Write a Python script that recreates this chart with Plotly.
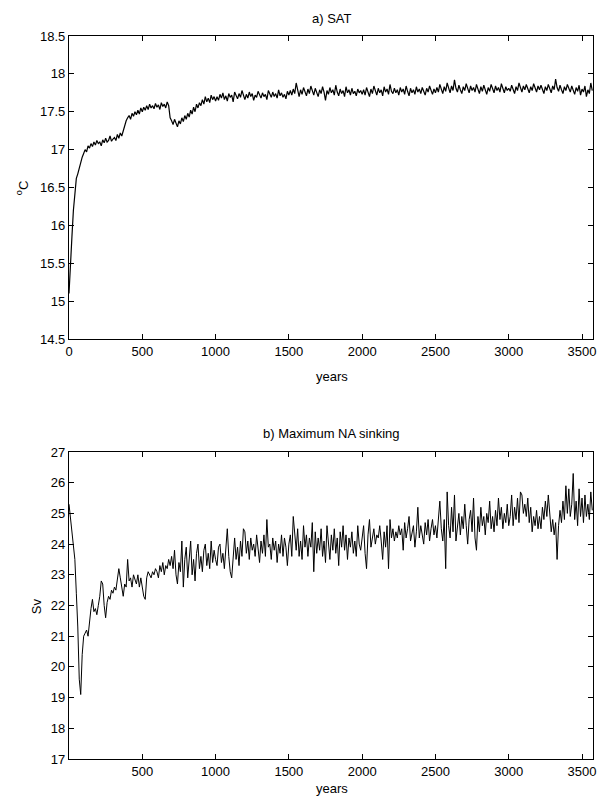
import plotly.graph_objects as go

years = list(range(0, 3580, 10))

sat = [
    15.10, 15.55, 15.85, 16.20, 16.45, 16.62, 16.68, 16.75, 16.85, 16.90, 16.95,
    17.00, 16.97, 17.05, 17.02, 17.08, 17.04, 17.10, 17.06, 17.12, 17.08, 17.10, 17.05, 17.13, 17.09, 17.15, 17.10, 17.12, 17.18, 17.11, 17.14,
    17.16, 17.12, 17.20, 17.15, 17.22, 17.18, 17.25, 17.30, 17.38, 17.42,
    17.45, 17.40, 17.48, 17.44, 17.50, 17.46, 17.52, 17.47, 17.55, 17.50,
    17.56, 17.52, 17.58, 17.53, 17.60, 17.55, 17.58, 17.54, 17.61, 17.56, 17.59, 17.53, 17.62, 17.57, 17.60, 17.55, 17.63, 17.58,
    17.42, 17.38, 17.33, 17.40, 17.36, 17.30, 17.38, 17.34, 17.42, 17.37, 17.45, 17.40,
    17.48, 17.43, 17.52, 17.47, 17.56, 17.50, 17.60, 17.55, 17.62, 17.58, 17.66, 17.60, 17.70, 17.63, 17.68, 17.62, 17.72, 17.66, 17.70, 17.64,
    17.70, 17.65, 17.73, 17.68, 17.75, 17.66, 17.71, 17.64, 17.74, 17.69, 17.72, 17.63, 17.76, 17.70, 17.67, 17.74, 17.69, 17.78, 17.71, 17.66,
    17.73, 17.68, 17.76, 17.70, 17.74, 17.65, 17.72, 17.69, 17.77, 17.71, 17.68, 17.75, 17.70, 17.73, 17.66, 17.78, 17.72, 17.69, 17.76, 17.70,
    17.74, 17.68, 17.79, 17.71, 17.75, 17.69, 17.73, 17.67, 17.77, 17.72,
    17.78, 17.72, 17.80, 17.74, 17.88, 17.76, 17.70, 17.79, 17.73, 17.82, 17.75, 17.71, 17.80, 17.74, 17.84, 17.77, 17.72, 17.81, 17.75, 17.70,
    17.79, 17.74, 17.83, 17.76, 17.65, 17.78, 17.73, 17.82, 17.75, 17.79, 17.72, 17.85, 17.76, 17.71, 17.80, 17.74, 17.78, 17.70, 17.83, 17.75,
    17.79, 17.72, 17.81, 17.74, 17.77, 17.71, 17.80, 17.75, 17.78, 17.73,
    17.79, 17.72, 17.82, 17.76, 17.70, 17.80, 17.74, 17.84, 17.77, 17.72, 17.81, 17.75, 17.79, 17.71, 17.83, 17.76, 17.80, 17.73, 17.86, 17.77,
    17.74, 17.81, 17.75, 17.79, 17.72, 17.82, 17.76, 17.80, 17.73, 17.84, 17.77, 17.71, 17.81, 17.75, 17.79, 17.73, 17.83, 17.76, 17.80, 17.74,
    17.82, 17.77, 17.72, 17.81, 17.76, 17.84, 17.78, 17.73, 17.80, 17.75,
    17.82, 17.76, 17.86, 17.79, 17.74, 17.83, 17.77, 17.88, 17.80, 17.75, 17.84, 17.78, 17.92, 17.81, 17.76, 17.85, 17.79, 17.74, 17.83, 17.78,
    17.87, 17.80, 17.75, 17.84, 17.78, 17.82, 17.76, 17.86, 17.80, 17.74, 17.83, 17.77, 17.85, 17.79, 17.73, 17.82, 17.77, 17.86, 17.80, 17.75,
    17.84, 17.78, 17.82, 17.76, 17.87, 17.80, 17.75, 17.83, 17.78, 17.81,
    17.77, 17.85, 17.79, 17.74, 17.83, 17.78, 17.88, 17.81, 17.76, 17.84, 17.79, 17.86, 17.80, 17.75, 17.83, 17.78, 17.87, 17.81, 17.76, 17.84,
    17.79, 17.85, 17.80, 17.74, 17.83, 17.78, 17.86, 17.80, 17.75, 17.84, 17.79, 17.93, 17.82, 17.77, 17.85, 17.79, 17.74, 17.83, 17.78, 17.86,
    17.80, 17.76, 17.84, 17.79, 17.73, 17.82, 17.77, 17.85, 17.72, 17.80,
    17.76, 17.84, 17.70, 17.79, 17.74, 17.88, 17.78,
]

sinking = [
    25.3, 24.8, 24.3, 23.9, 23.5, 22.4, 21.3, 19.6, 19.1, 20.4, 21.0,
    21.1, 21.2, 21.0, 21.6, 21.9, 22.2, 21.8, 21.9, 21.7, 22.0, 22.3, 22.8, 22.7, 22.0, 21.6, 22.1, 22.3, 22.2, 22.5, 22.4,
    22.6, 22.5, 22.8, 23.2, 22.9, 22.6, 22.3, 22.7, 22.6, 23.5, 22.8, 22.9, 22.6, 23.0, 22.8, 22.7, 23.0, 22.6, 22.9, 22.5,
    22.3, 22.2, 22.9, 23.1, 23.0, 22.9, 23.1, 23.0, 23.2, 23.1, 22.9, 23.3, 23.1, 23.4, 23.0, 23.3, 23.2, 23.5, 23.3, 23.6,
    23.2, 23.8, 23.0, 22.7, 23.4, 23.1, 24.1, 22.6, 23.5, 23.9, 22.9, 23.6, 24.1, 23.0, 23.5, 22.8, 23.7, 24.0, 23.2, 23.6,
    23.1, 23.8, 24.0, 23.3, 23.7, 23.2, 24.1, 23.4, 23.8, 23.5,
    23.3, 23.9, 24.0, 23.4, 23.7, 23.2, 24.0, 24.5, 23.6, 23.1, 22.9, 23.7, 24.2, 23.5, 23.9, 23.3, 24.1, 23.6, 24.5, 24.4,
    23.7, 24.1, 23.5, 24.2, 23.8, 24.0, 23.6, 24.3, 23.9, 23.4, 24.1, 23.7, 24.3, 23.6, 24.8, 23.9, 24.0, 23.5, 24.2, 23.8,
    24.1, 23.4, 24.0, 23.7, 24.3, 23.6, 24.2, 23.9, 23.3, 24.0,
    24.3, 23.6, 24.9, 24.2, 23.8, 24.5, 23.6, 24.1, 23.5, 24.6, 23.9, 24.3, 23.6, 24.2, 23.9, 24.7, 23.1, 24.4, 23.7, 24.2,
    23.8, 24.5, 23.6, 24.1, 23.4, 24.6, 24.0, 23.5, 24.3, 23.8, 24.5, 23.7, 24.2, 23.3, 24.4, 23.9, 24.6, 23.8, 24.3, 23.5,
    24.2, 23.9, 24.4, 23.7, 24.1, 23.6, 24.6, 24.0, 23.8, 24.3,
    24.6, 23.7, 23.2, 24.3, 24.8, 23.9, 24.2, 24.5, 24.0, 24.3, 24.2, 24.6, 24.1, 23.5, 24.4, 23.9, 24.6, 23.2, 24.8, 24.2,
    24.5, 24.1, 24.4, 24.2, 24.6, 24.3, 24.5, 23.8, 24.7, 24.2, 24.5, 24.9, 24.1, 24.3, 24.6, 23.9, 24.4, 25.2, 24.2, 24.6,
    24.3, 24.0, 24.7, 24.3, 24.8, 24.1, 24.5, 24.8, 24.3, 24.6,
    24.2, 24.9, 25.4, 24.5, 24.1, 24.8, 23.2, 25.7, 24.6, 24.2, 25.2, 24.4, 25.6, 24.1, 24.7, 25.0, 24.3, 24.9, 24.5, 25.3,
    24.6, 24.0, 24.8, 25.1, 24.4, 25.5, 24.2, 23.8, 24.9, 24.4, 25.2, 24.6, 24.9, 24.3, 25.0, 24.7, 25.4, 24.5, 24.9, 24.4,
    25.1, 24.6, 25.5, 24.8, 25.2, 24.5, 25.0, 24.7, 25.3, 24.6,
    24.9, 25.6, 24.6, 25.2, 24.8, 25.5, 24.7, 25.7, 25.6, 25.0, 25.3, 24.9, 25.5, 24.7, 25.2, 24.4, 24.9, 24.6, 25.1, 24.5,
    24.9, 24.5, 25.2, 24.8, 25.4, 24.9, 25.6, 25.0, 24.4, 24.8, 24.3, 24.7, 23.5, 24.6, 25.1, 24.7, 25.4, 24.8, 25.9, 25.0,
    25.8, 24.9, 25.3, 26.3, 24.8, 25.4, 24.6, 25.8, 24.9, 25.5,
    24.7, 25.6, 24.9, 25.3, 24.8, 25.7, 25.1,
]

top_ticks = [14.5, 15, 15.5, 16, 16.5, 17, 17.5, 18, 18.5]
top_ticktext = ["14.5", "15", "15.5", "16", "16.5", "17", "17.5", "18", "18.5"]
bot_ticks = [17, 18, 19, 20, 21, 22, 23, 24, 25, 26, 27]
x_ticks_top = [0, 500, 1000, 1500, 2000, 2500, 3000, 3500]
x_ticks_bot = [500, 1000, 1500, 2000, 2500, 3000, 3500]

# The page body margin is removed by a post script, so page pixels = figure pixels.
W, H = 608, 798
# plot-area edges in page pixels
PL, PR, PT, PB = 69, 595, 36, 759
L, T = PL, PT
R = W - PR
B = H - PB
pw, ph = W - L - R, H - T - B


def px(x):
    return (x - PL) / pw


def py(y):
    return (PB - y) / ph


FONT = "Liberation Sans, Arial, Helvetica, sans-serif"

fig = go.Figure()
fig.add_trace(go.Scatter(x=years, y=sat, mode="lines",
                         line=dict(color="black", width=1.2), xaxis="x", yaxis="y"))
fig.add_trace(go.Scatter(x=years, y=sinking, mode="lines",
                         line=dict(color="black", width=1), xaxis="x2", yaxis="y2"))

axis_common = dict(showgrid=False, zeroline=False, showline=True, linecolor="black",
                   linewidth=1.2, mirror="ticks", ticks="inside", ticklen=5,
                   tickcolor="black", tickwidth=1,
                   tickfont=dict(family=FONT, size=13, color="black"))

fig.update_layout(
    width=W, height=H,
    margin=dict(l=L, r=R, t=T, b=B),
    paper_bgcolor="white", plot_bgcolor="white",
    showlegend=False,
    xaxis=dict(domain=[0, 1], anchor="y", range=[0, 3575],
               tickvals=x_ticks_top, ticktext=[str(v) for v in x_ticks_top], **axis_common),
    yaxis=dict(domain=[py(339), 1], anchor="x", range=[14.5, 18.5],
               tickvals=top_ticks, ticktext=top_ticktext, **axis_common),
    xaxis2=dict(domain=[0, 1], anchor="y2", range=[0, 3575],
                tickvals=x_ticks_bot, ticktext=[str(v) for v in x_ticks_bot], **axis_common),
    yaxis2=dict(domain=[0, py(452)], anchor="x2", range=[17, 27],
                tickvals=bot_ticks, ticktext=[str(v) for v in bot_ticks], **axis_common),
)

ann_font = dict(family=FONT, size=13, color="black")
annotations = [
    dict(text="a) SAT", x=px(333), y=py(18)),
    dict(text="years", x=px(333), y=py(376)),
    dict(text="b) Maximum NA sinking", x=px(333), y=py(433)),
    dict(text="years", x=px(333), y=py(788)),
    dict(text="<sup>o</sup>C", x=px(22), y=py(188), textangle=-90),
    dict(text="Sv", x=px(36), y=py(606), textangle=-90),
]
for a in annotations:
    fig.add_annotation(xref="paper", yref="paper", showarrow=False,
                       xanchor="center", yanchor="middle", font=ann_font, **a)

fig.write_html(
    "out.html",
    config={"displayModeBar": False},
    post_script="document.body.style.margin='0px';document.body.style.overflow='hidden';",
)
